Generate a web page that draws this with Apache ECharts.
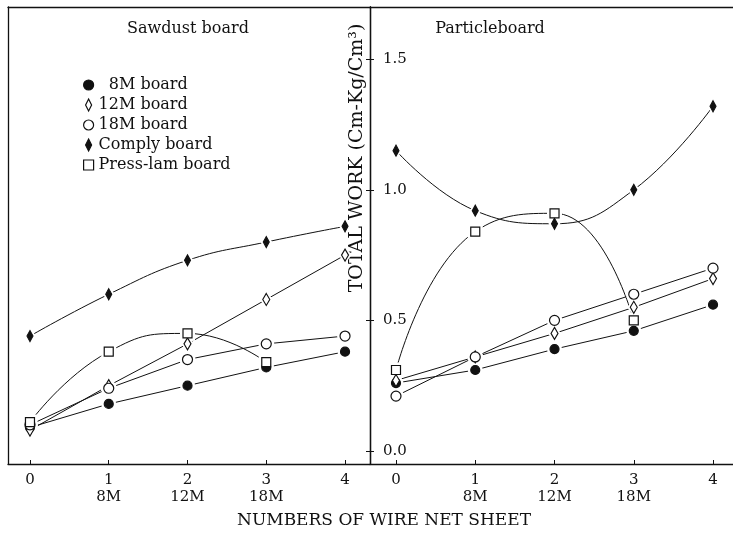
<!DOCTYPE html>
<html>
<head>
<meta charset="utf-8">
<script src="https://cdn.jsdelivr.net/npm/echarts@6/dist/echarts.min.js"></script>
<style>
  html, body { margin: 0; padding: 0; background: #fff; }
  #chart { width: 733px; height: 538px; }
</style>
</head>
<body>
<div id="chart"></div>
<script>
// Number of wire net sheets on the x axis, with the sheet grade under 1-3
const sheetCounts = [0, 1, 2, 3, 4];
const sheetLabels = ['0', '1\n8M', '2\n12M', '3\n18M', '4'];
const workTicks = [0, 0.5, 1.0, 1.5];
const boardNames = ['8M board', '12M board', '18M board', 'Comply board', 'Press-lam board'];

// Sawdust board: total work (Cm-Kg/Cm3)
const sawdust8M = [0.09, 0.18, 0.25, 0.32, 0.38];
const sawdust12M = [0.08, 0.25, 0.41, 0.58, 0.75];
const sawdust18M = [0.10, 0.24, 0.35, 0.41, 0.44];
const sawdustComply = [0.44, 0.60, 0.73, 0.80, 0.86];
const sawdustPressLam = [0.11, 0.38, 0.45, 0.34, null];

// Particleboard: total work (Cm-Kg/Cm3)
const particle8M = [0.26, 0.31, 0.39, 0.46, 0.56];
const particle12M = [0.27, 0.36, 0.45, 0.55, 0.66];
const particle18M = [0.21, 0.36, 0.50, 0.60, 0.70];
const particleComply = [1.15, 0.92, 0.87, 1.00, 1.32];
const particlePressLam = [0.31, 0.84, 0.91, 0.50, null];

const FONT = '"DejaVu Serif", "Liberation Serif", serif';
const INK = '#111';

// Marker look per board
const diamond = 'path://M3,0L6,6L3,12L0,6Z';
const square = 'path://M0,0L10,0L10,10L0,10Z';
const markStyles = {
  '8M board':        { symbol: 'circle', size: 9,        fill: INK },
  '12M board':       { symbol: diamond,  size: [7, 12],  fill: '#fff' },
  '18M board':       { symbol: 'circle', size: 10,       fill: '#fff' },
  'Comply board':    { symbol: diamond,  size: [6, 11],  fill: INK },
  'Press-lam board': { symbol: square,   size: 9,        fill: '#fff' }
};
const smoothBy = { 'Comply board': 0.45, 'Press-lam board': 0.5 };

// Each board: a thin curve, a white gap ring around each mark, then the mark itself
function panelSeries(xAxisIndex, yAxisIndex, columns) {
  const out = [];
  boardNames.forEach((name, k) => {
    const pts = columns[k]
      .map((v, i) => (v == null ? null : [sheetCounts[i], v]))
      .filter(Boolean);
    const st = markStyles[name];
    const ring = Array.isArray(st.size) ? st.size.map(s => s + 6) : st.size + 6;
    out.push({
      type: 'line', name: name + ' curve', xAxisIndex, yAxisIndex, data: pts,
      symbol: 'none', showSymbol: false, smooth: smoothBy[name] || false,
      lineStyle: { color: INK, width: 1 }, z: 2, silent: true
    });
    out.push({
      type: 'scatter', name: name + ' ring', xAxisIndex, yAxisIndex, data: pts,
      symbol: st.symbol, symbolSize: ring,
      itemStyle: { color: '#fff', borderWidth: 0, opacity: 1 }, z: 3, silent: true
    });
    out.push({
      type: 'scatter', name, xAxisIndex, yAxisIndex, data: pts,
      symbol: st.symbol, symbolSize: st.size,
      itemStyle: { color: st.fill, borderColor: INK, borderWidth: 1.2, opacity: 1 }, z: 4
    });
  });
  return out;
}

const plainAxisLine = { show: true, onZero: false, lineStyle: { color: INK, width: 1.3 } };

function bottomAxis(gridIndex, min, max) {
  return {
    type: 'value', gridIndex, position: 'bottom', min, max,
    axisLine: plainAxisLine,
    axisTick: { show: true, inside: true, length: 4, customValues: sheetCounts, lineStyle: { color: INK } },
    axisLabel: {
      show: true, customValues: sheetCounts, margin: 8,
      formatter: v => sheetLabels[sheetCounts.indexOf(Math.round(v))] || '',
      fontFamily: FONT, fontSize: 15, color: INK, lineHeight: 17
    },
    splitLine: { show: false }
  };
}
function frameAxis(type, gridIndex, position, min, max) {
  return {
    type, gridIndex, position, min, max,
    axisLine: plainAxisLine, axisTick: { show: false }, axisLabel: { show: false },
    splitLine: { show: false }
  };
}

const chart = echarts.init(document.getElementById('chart'), null, { renderer: 'canvas' });
chart.setOption({
  animation: false,
  backgroundColor: '#fff',
  textStyle: { fontFamily: FONT, color: INK },
  grid: [
    { left: 8, top: 7, width: 362, height: 457 },
    { left: 370, top: 7, width: 363, height: 457 }
  ],
  xAxis: [
    bottomAxis(0, -0.279, 4.317),
    bottomAxis(1, -0.328, 4.252),
    frameAxis('value', 0, 'top', -0.279, 4.317),
    frameAxis('value', 1, 'top', -0.328, 4.252)
  ],
  yAxis: [
    frameAxis('value', 0, 'left', -0.05, 1.70),
    {
      type: 'value', gridIndex: 0, position: 'right', min: -0.05, max: 1.70,
      axisLine: plainAxisLine,
      axisTick: { show: true, length: 4, customValues: workTicks, lineStyle: { color: INK } },
      axisLabel: { show: false }, splitLine: { show: false }
    },
    {
      type: 'value', gridIndex: 1, position: 'left', min: -0.05, max: 1.70,
      axisLine: plainAxisLine,
      axisTick: { show: true, length: 4, customValues: workTicks, lineStyle: { color: INK } },
      axisLabel: {
        show: true, inside: true, margin: 13, customValues: workTicks,
        formatter: v => v.toFixed(1), fontFamily: FONT, fontSize: 15, color: INK
      },
      splitLine: { show: false }
    }
  ],
  legend: {
    orient: 'vertical', left: 78, top: 72, itemGap: 4,
    itemWidth: 10, itemHeight: 12,
    textStyle: { fontFamily: FONT, fontSize: 16, color: INK },
    formatter: n => (n === '8M board' ? '  ' + n : n),
    data: boardNames.map(n => ({
      name: n, icon: markStyles[n].symbol,
      itemStyle: { color: markStyles[n].fill, borderColor: INK, borderWidth: 1.2, opacity: 1 }
    }))
  },
  graphic: [
    { type: 'text', x: 188, y: 29, style: { text: 'Sawdust board', fontFamily: FONT, fontSize: 16, fill: INK, align: 'center', verticalAlign: 'middle', textAlign: 'center', textVerticalAlign: 'middle' } },
    { type: 'text', x: 490, y: 29, style: { text: 'Particleboard', fontFamily: FONT, fontSize: 16, fill: INK, align: 'center', verticalAlign: 'middle', textAlign: 'center', textVerticalAlign: 'middle' } },
    { type: 'text', x: 384, y: 521, style: { text: 'NUMBERS OF WIRE NET SHEET', fontFamily: FONT, fontSize: 17, fill: INK, align: 'center', verticalAlign: 'middle', textAlign: 'center', textVerticalAlign: 'middle' } },
    { type: 'text', x: 357, y: 158, rotation: Math.PI / 2, style: { text: 'TOTAL WORK (Cm-Kg/Cm\u00B3)', fontFamily: FONT, fontSize: 19, fill: INK, align: 'center', verticalAlign: 'middle', textAlign: 'center', textVerticalAlign: 'middle' } }
  ],
  series: [
    ...panelSeries(0, 0, [sawdust8M, sawdust12M, sawdust18M, sawdustComply, sawdustPressLam]),
    ...panelSeries(1, 2, [particle8M, particle12M, particle18M, particleComply, particlePressLam])
  ]
});
</script>
</body>
</html>
